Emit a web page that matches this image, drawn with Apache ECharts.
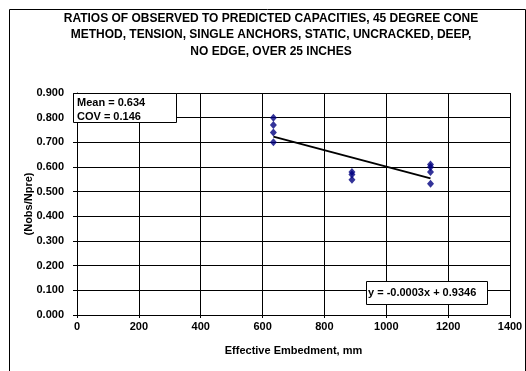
<!DOCTYPE html>
<html>
<head>
<meta charset="utf-8">
<script src="https://cdn.jsdelivr.net/npm/echarts@6/dist/echarts.min.js"></script>
<style>
  html, body { margin: 0; padding: 0; background: #fff; }
  #chart { width: 526px; height: 371px; }
</style>
</head>
<body>
<div id="chart"></div>
<script>
// Effective embedment (mm) and observed/predicted capacity ratios
const embedment = [635, 635, 635, 635, 889, 889, 889, 1143, 1143, 1143, 1143];
const ratios    = [0.800, 0.770, 0.740, 0.700, 0.580, 0.570, 0.548, 0.610, 0.600, 0.580, 0.532];

// Linear trend fit
const trendSlope = -0.000333;
const trendIntercept = 0.9346;
const trendRange = [635, 1143];

const statsText = ['Mean = 0.634', 'COV = 0.146'];
const titleLines = [
  'RATIOS OF OBSERVED TO PREDICTED CAPACITIES, 45 DEGREE CONE',
  'METHOD, TENSION, SINGLE ANCHORS, STATIC, UNCRACKED, DEEP,',
  'NO EDGE, OVER 25 INCHES'
];
const xTitle = 'Effective Embedment, mm';
const yTitle = '(Nobs/Npre)';

const points = embedment.map((x, i) => [x, ratios[i]]);
const trend = trendRange.map(x => [x, trendSlope * x + trendIntercept]);
const eqText = 'y = ' + trendSlope.toFixed(4) + 'x + ' + trendIntercept.toFixed(4);

const font = 'Arial, "Liberation Sans", sans-serif';
const chart = echarts.init(document.getElementById('chart'), null, { renderer: 'canvas' });

chart.setOption({
  animation: false,
  backgroundColor: '#fff',
  title: {
    text: titleLines.join('\n'),
    left: 266, top: 5, textAlign: 'center',
    textStyle: { fontFamily: font, fontSize: 12, fontWeight: 'bold', color: '#000', lineHeight: 16.5 }
  },
  grid: { left: 77, right: 16, top: 93, bottom: 56 },
  xAxis: {
    type: 'value', min: 0, max: 1400, interval: 200,
    name: xTitle, nameLocation: 'middle', nameGap: 30, nameMoveOverlap: false,
    nameTextStyle: { fontFamily: font, fontSize: 11, fontWeight: 'bold', color: '#000' },
    axisLine: { lineStyle: { color: '#000', width: 1 } },
    axisTick: { show: true, inside: false, length: 3, lineStyle: { color: '#000' } },
    axisLabel: { fontFamily: font, fontSize: 11, fontWeight: 'bold', color: '#000', margin: 6,
      formatter: v => String(v) },
    splitLine: { show: true, lineStyle: { color: '#000', width: 1 } }
  },
  yAxis: {
    type: 'value', min: 0, max: 0.9, interval: 0.1,
    name: yTitle, nameLocation: 'middle', nameGap: 43, nameRotate: 90, nameMoveOverlap: false,
    nameTextStyle: { fontFamily: font, fontSize: 11, fontWeight: 'bold', color: '#000' },
    axisLine: { show: true, lineStyle: { color: '#000', width: 1 } },
    axisTick: { show: true, length: 4, lineStyle: { color: '#000' } },
    axisLabel: { fontFamily: font, fontSize: 11, fontWeight: 'bold', color: '#000', margin: 13,
      formatter: v => v.toFixed(3) },
    splitLine: { show: true, lineStyle: { color: '#000', width: 1 } }
  },
  series: [
    {
      type: 'line', data: trend, symbol: 'none',
      lineStyle: { color: '#000', width: 2 }, z: 3
    },
    {
      type: 'scatter', data: points, symbol: 'diamond', symbolSize: [7, 8],
      itemStyle: { color: '#000080' }, z: 4
    }
  ],
  graphic: [
    {
      type: 'rect', shape: { x: 0.5, y: 0.5, width: 516, height: 380 },
      style: { fill: 'none', stroke: '#000', lineWidth: 1 }, left: 7, top: 7, z: 0, silent: true
    },
    {
      type: 'rect', left: 73, top: 93, z: 50,
      shape: { x: 0.5, y: 0.5, width: 103, height: 29 },
      style: { fill: '#fff', stroke: '#000', lineWidth: 1 }
    },
    {
      type: 'text', left: 77, top: 96, z: 51,
      style: { text: statsText.join('\n'), font: 'bold 11px ' + font, fill: '#000', lineHeight: 14 }
    },
    {
      type: 'rect', left: 366, top: 281, z: 50,
      shape: { x: 0.5, y: 0.5, width: 121, height: 23 },
      style: { fill: '#fff', stroke: '#000', lineWidth: 1 }
    },
    {
      type: 'text', left: 368, top: 287, z: 51,
      style: { text: eqText, font: 'bold 11px ' + font, fill: '#000' }
    }
  ]
});
</script>
</body>
</html>
